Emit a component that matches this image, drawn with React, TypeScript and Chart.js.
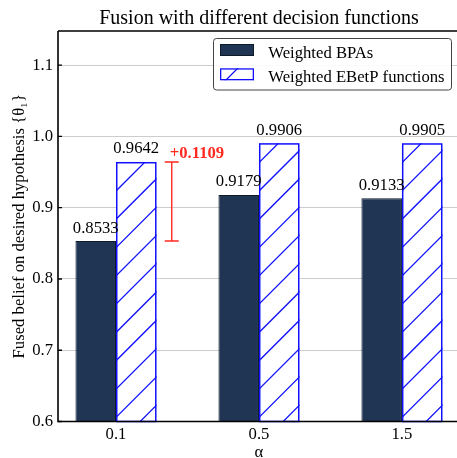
import React, { useEffect, useRef } from "react";
import { Chart, registerables } from "chart.js";

Chart.register(...registerables);

const categories = ["0.1", "0.5", "1.5"];
const weightedBPAs = [0.8533, 0.9179, 0.9133];
const weightedEBetP = [0.9642, 0.9906, 0.9905];
const yTicks = [0.6, 0.7, 0.8, 0.9, 1.0, 1.1];
const seriesLabels = ["Weighted BPAs", "Weighted EBetP functions"];
const chartTitle = "Fusion with different decision functions";
const yTitle = "Fused belief on desired hypothesis {\u03B8\u2081}";
const xTitle = "\u03B1";
const annotatedIndex = 0;

const SERIF = "'Liberation Serif', 'Times New Roman', serif";
const FS = 16.67;
const DARK = "#1f3553";
const BLUE = "#1010ff";
const RED = "#ff2a20";
const HATCH_SPACING = 28.3;

function drawHatch(ctx: CanvasRenderingContext2D, L: number, T: number, R: number, B: number, y0: number) {
  ctx.save();
  ctx.beginPath();
  ctx.rect(L, T, R - L, B - T);
  ctx.clip();
  ctx.strokeStyle = BLUE;
  ctx.lineWidth = 1.3;
  const w = R - L;
  const k0 = Math.floor((T - y0) / HATCH_SPACING) - 1;
  const k1 = Math.ceil((B + w - y0) / HATCH_SPACING) + 1;
  ctx.beginPath();
  for (let k = k0; k <= k1; k++) {
    const yk = y0 + k * HATCH_SPACING;
    ctx.moveTo(L - 2, yk + 2);
    ctx.lineTo(R + 2, yk - w - 2);
  }
  ctx.stroke();
  ctx.restore();
}

const decorPlugin = {
  id: "decor",
  afterDatasetsDraw(chart: any) {
    const ctx: CanvasRenderingContext2D = chart.ctx;
    const area = chart.chartArea;
    const xs = chart.scales.x;
    const ys = chart.scales.y;

    // hatch on second dataset
    const meta1 = chart.getDatasetMeta(1);
    meta1.data.forEach((el: any) => {
      const p = el.getProps(["x", "y", "base", "width"], true);
      const L = p.x - p.width / 2;
      const R = p.x + p.width / 2;
      const B = Math.min(p.base, area.bottom);
      drawHatch(ctx, L, p.y, R, B, 191);
      ctx.save();
      ctx.strokeStyle = BLUE;
      ctx.lineWidth = 1.5;
      ctx.strokeRect(L + 0.75, p.y + 0.75, R - L - 1.5, B - p.y - 0.75);
      ctx.restore();
    });

    // frame
    ctx.save();
    ctx.strokeStyle = "#000";
    ctx.lineWidth = 1.6;
    ctx.beginPath();
    ctx.moveTo(area.left, area.top);
    ctx.lineTo(area.right + 2, area.top);
    ctx.moveTo(area.left, area.top);
    ctx.lineTo(area.left, area.bottom);
    ctx.lineTo(area.right + 2, area.bottom);
    ctx.stroke();
    // inward y ticks
    ctx.lineWidth = 1.3;
    ctx.beginPath();
    yTicks.forEach((v) => {
      const py = ys.getPixelForValue(v);
      ctx.moveTo(area.left, py);
      ctx.lineTo(area.left + 4, py);
    });
    ctx.stroke();
    ctx.restore();

    // value labels
    ctx.save();
    ctx.fillStyle = "#000";
    ctx.font = `${FS}px ${SERIF}`;
    ctx.textAlign = "center";
    ctx.textBaseline = "alphabetic";
    chart.data.datasets.forEach((ds: any, di: number) => {
      const meta = chart.getDatasetMeta(di);
      meta.data.forEach((el: any, i: number) => {
        const p = el.getProps(["x", "y"], true);
        ctx.fillText(ds.data[i].y.toFixed(4), p.x, p.y - 8.5);
      });
    });
    ctx.restore();

    // improvement annotation
    const lo = weightedBPAs[annotatedIndex];
    const hi = weightedEBetP[annotatedIndex];
    const ax = xs.getPixelForValue(annotatedIndex + 0.39);
    const yHi = ys.getPixelForValue(hi);
    const yLo = ys.getPixelForValue(lo);
    ctx.save();
    ctx.strokeStyle = RED;
    ctx.lineWidth = 1.4;
    ctx.beginPath();
    ctx.moveTo(ax, yHi);
    ctx.lineTo(ax, yLo);
    ctx.moveTo(ax - 7, yHi);
    ctx.lineTo(ax + 7, yHi);
    ctx.moveTo(ax - 7, yLo);
    ctx.lineTo(ax + 7, yLo);
    ctx.stroke();
    ctx.fillStyle = RED;
    ctx.font = `bold ${FS}px ${SERIF}`;
    ctx.textAlign = "left";
    ctx.textBaseline = "alphabetic";
    ctx.fillText("+" + (hi - lo).toFixed(4), ax - 2, yHi - 4);
    ctx.restore();

    // titles
    ctx.save();
    ctx.fillStyle = "#000";
    ctx.textAlign = "center";
    ctx.textBaseline = "alphabetic";
    ctx.font = `20px ${SERIF}`;
    const cx = xs.getPixelForValue(1);
    ctx.fillText(chartTitle, cx, 23.5);
    ctx.font = `${FS}px ${SERIF}`;
    ctx.fillText(xTitle, cx, 456.5);
    ctx.translate(23.8, (area.top + area.bottom) / 2);
    ctx.rotate(-Math.PI / 2);
    ctx.fillText(yTitle, 0, 0);
    ctx.restore();

    // legend
    ctx.save();
    const bx = 213.5, by = 38.5, bw = 238, bh = 51.5;
    ctx.fillStyle = "rgba(255,255,255,0.9)";
    ctx.strokeStyle = "#444";
    ctx.lineWidth = 1;
    ctx.beginPath();
    (ctx as any).roundRect(bx, by, bw, bh, 3);
    ctx.fill();
    ctx.stroke();
    const rows = [57.5, 81.8];
    chart.data.datasets.forEach((ds: any, i: number) => {
      const sy = rows[i] - 13.5;
      if (i === 0) {
        ctx.fillStyle = DARK;
        ctx.fillRect(220, sy, 34, 12);
        ctx.strokeStyle = "#0d1a2a";
        ctx.lineWidth = 1;
        ctx.strokeRect(220.5, sy + 0.5, 33, 11);
      } else {
        ctx.fillStyle = "#fff";
        ctx.fillRect(220, sy, 34, 12);
        drawHatch(ctx, 220, sy, 254, sy + 12, 86);
        ctx.strokeStyle = BLUE;
        ctx.lineWidth = 1.3;
        ctx.strokeRect(220.65, sy + 0.65, 32.7, 10.7);
      }
      ctx.fillStyle = "#000";
      ctx.font = `${FS}px ${SERIF}`;
      ctx.textAlign = "left";
      ctx.textBaseline = "alphabetic";
      ctx.fillText(ds.label, 268.3, rows[i]);
    });
    ctx.restore();
  },
};

export default function App() {
  const canvasRef = useRef<HTMLCanvasElement>(null);
  useEffect(() => {
    const canvas = canvasRef.current!;
    const chart = new Chart(canvas, {
      type: "bar",
      data: {
        datasets: [
          {
            label: seriesLabels[0],
            data: categories.map((_, i) => ({ x: i, y: weightedBPAs[i] })),
            backgroundColor: DARK,
            borderColor: "#0d1a2a",
            borderWidth: 1,
            barPercentage: 1,
            categoryPercentage: 0.567,
          },
          {
            label: seriesLabels[1],
            data: categories.map((_, i) => ({ x: i, y: weightedEBetP[i] })),
            backgroundColor: "#ffffff",
            borderColor: BLUE,
            borderWidth: 0,
            barPercentage: 1,
            categoryPercentage: 0.567,
          },
        ] as any,
      },
      options: {
        animation: false,
        responsive: false,
        devicePixelRatio: 1,
        layout: { padding: { top: 31, left: 0, right: 0, bottom: 0 } },
        plugins: { legend: { display: false }, tooltip: { enabled: false }, title: { display: false } },
        scales: {
          x: {
            type: "linear",
            min: -0.4056,
            max: 2.385,
            offset: false,
            grid: { display: false, drawTicks: false },
            border: { display: false },
            afterBuildTicks: (s: any) => {
              s.ticks = categories.map((_, i) => ({ value: i }));
            },
            afterFit: (s: any) => {
              s.height = 36.5;
            },
            ticks: {
              callback: (v: any) => categories[Math.round(v)] ?? "",
              font: { family: SERIF, size: FS },
              color: "#000",
              padding: 3,
              maxRotation: 0,
            },
          },
          y: {
            min: 0.6,
            max: 1.148,
            grid: { color: "#cccccc", lineWidth: 1, drawTicks: false },
            border: { display: false },
            afterBuildTicks: (s: any) => {
              s.ticks = yTicks.map((v) => ({ value: v }));
            },
            afterFit: (s: any) => {
              s.width = 58;
            },
            ticks: {
              callback: (v: any) => Number(v).toFixed(1),
              font: { family: SERIF, size: FS },
              color: "#000",
              padding: 5,
            },
          },
        } as any,
      },
      plugins: [decorPlugin],
    });
    return () => chart.destroy();
  }, []);
  return (
    <div style={{ position: "fixed", left: 0, top: 0, width: 457, height: 458, background: "#fff" }}>
      <canvas ref={canvasRef} width={457} height={458} style={{ width: 457, height: 458, display: "block" }} />
    </div>
  );
}
